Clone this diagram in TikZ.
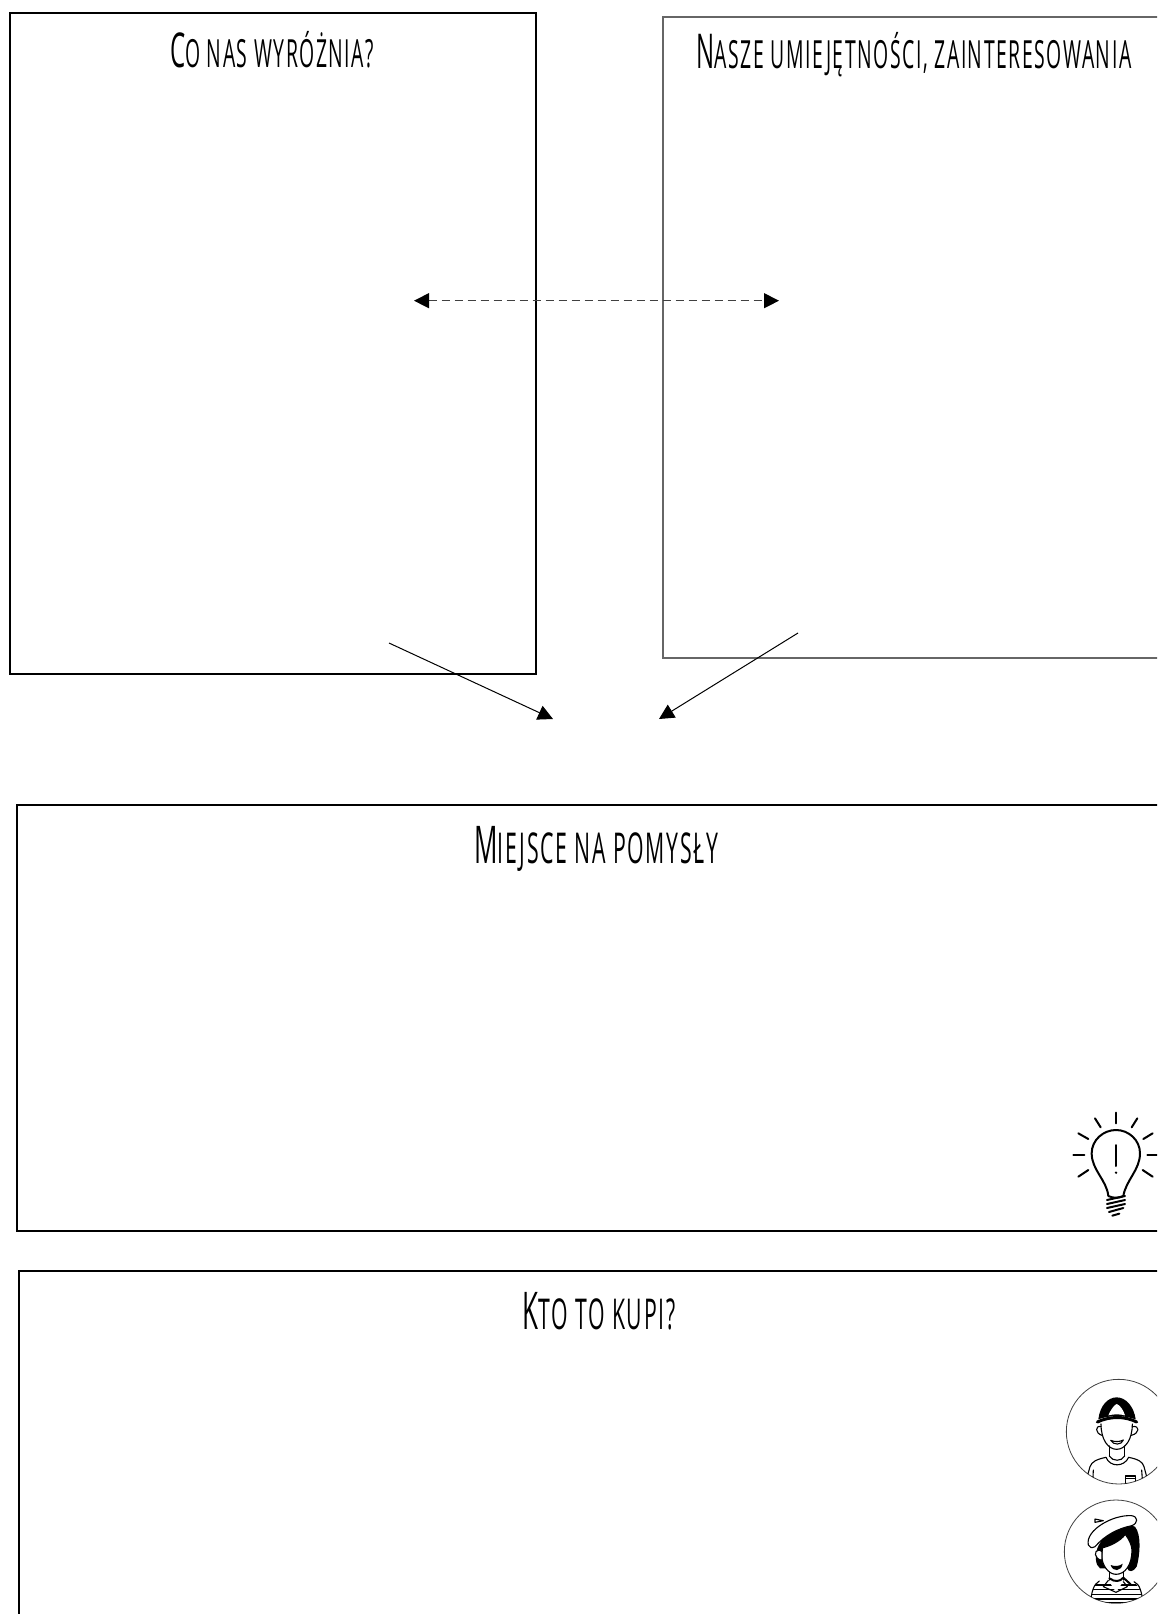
\documentclass[tikz,border=0pt]{standalone}
\usepackage{fontspec}
\newfontfamily\titlefont[FakeStretch=0.5,LetterSpace=4]{Open Sans}
\usetikzlibrary{arrows.meta}
\newcommand{\capsmall}[2]{{\fontsize{48pt}{48pt}\selectfont #1}{\fontsize{38.8pt}{38.8pt}\selectfont\MakeUppercase{#2}}}
\newcommand{\capbig}[2]{{\fontsize{52pt}{52pt}\selectfont #1}{\fontsize{42.5pt}{42.5pt}\selectfont\MakeUppercase{#2}}}
\tikzset{
    panel/.style   = {rectangle, draw=black, line width=2.1pt, anchor=north west, inner sep=0pt},
    panelgray/.style = {panel, draw=black!60},
    heading/.style = {font=\titlefont, text=black, inner sep=0pt},
    bigarrow/.style = {-{Triangle[length=15pt,width=15pt]}, line width=1pt},
    bothways/.style = {{Triangle[length=15pt,width=15pt,black]}-{Triangle[length=15pt,width=15pt,black]}, line width=1.1pt, black!75, dash pattern=on 8.5pt off 4.5pt},
    icon/.style    = {line width=#1, line cap=round, line join=round},
    icon/.default  = 2pt,
    zoomed/.style  = {x=0.3333pt, y=-0.3333pt}
}
\begin{document}
\begin{tikzpicture}[x=1pt, y=-1pt]
    \useasboundingbox (0,0) rectangle (1157,1614);
    \clip (0,0) rectangle (1157,1614);
    \fill[white] (0,0) rectangle (1157,1614);

    % --- Panels ---
    \node[panel, minimum width=526pt, minimum height=661pt] (wyroznia) at (8.5, 12) {};
    \node[panelgray, minimum width=520pt, minimum height=641pt] (umiejetnosci) at (661.5, 16) {};
    \node[panel, minimum width=1160pt, minimum height=426pt] (pomysly) at (15.5, 804) {};
    \node[panel, minimum width=1160pt, minimum height=400pt] (klienci) at (17.5, 1269.5) {};

    % --- Headings ---
    \node[heading] (t_wyroznia) at (272, 50) {\capsmall{C}{o nas wyróżnia?}};
    \node[heading] (t_umiejetnosci) at (914, 55) {\capsmall{N}{asze umiejętności, zainteresowania}};
    \node[heading] (t_pomysly) at (596, 849) {\capbig{M}{iejsce na pomysły}};
    \node[heading] (t_klienci) at (599, 1311) {\capbig{K}{to to kupi?}};

    % --- Arrows ---
    \coordinate (a_left) at (414, 300.7);
    \coordinate (a_right) at (779, 300.7);
    \coordinate (b_start) at (389, 643);
    \coordinate (b_end) at (553, 719);
    \coordinate (c_start) at (798, 633);
    \coordinate (c_end) at (659, 719);
    \draw[bothways] (a_left) -- (a_right);
    \draw[bigarrow] (b_start) -- (b_end);
    \draw[bigarrow] (c_start) -- (c_end);

    % Light bulb
    \begin{scope}[shift={(1040,1090)}, zoomed, icon]
        \draw (205,318) .. controls (200,270) and (155,240) .. (155,190) .. controls (155,150) and (190,120) .. (228,120)
              .. controls (266,120) and (300,150) .. (300,190) .. controls (300,240) and (258,270) .. (250,318)
              .. controls (235,325) and (220,325) .. (205,318);
        \foreach \ya/\yb in {330/318, 342/330, 354/342} \draw (201,\ya) -- (255,\yb);
        \draw (207,366) -- (250,354);
        \draw (217,377) -- (238,371);
        \draw (228,165) -- (228,228);
        \fill (228,248) circle (4);
        \foreach \xa/\ya/\xb/\yb in {228/68/228/100, 165/85/182/112, 292/85/275/112, 115/130/145/147, 338/130/310/147,
                                     100/195/133/195, 322/195/352/195, 115/260/145/240, 338/260/308/240}
            \draw (\xa,\ya) -- (\xb,\yb);
    \end{scope}

    % Boy in a cap
    \begin{scope}[shift={(1040,1360)}, zoomed]
        \draw[line width=0.8pt, black!75] (236,215) circle (157);
        \begin{scope}[icon=1.1pt]
            \clip (236,215) circle (157);
            \fill (175,178) .. controls (180,135) and (205,112) .. (230,112) .. controls (258,112) and (282,140) .. (287,178)
                  .. controls (250,165) and (210,165) .. (175,178) -- cycle;
            \fill[white] (205,166) .. controls (212,150) and (222,135) .. (230,132) .. controls (240,135) and (250,150) .. (255,166)
                  .. controls (240,162) and (220,162) .. (205,166) -- cycle;
            \draw[line width=3pt] (172,186) .. controls (210,168) and (255,168) .. (290,186);
            \draw (183,192) .. controls (183,240) and (205,268) .. (230,268) .. controls (255,268) and (277,240) .. (277,192);
            \draw (183,200) .. controls (165,195) and (165,220) .. (186,226);
            \draw (277,200) .. controls (300,195) and (300,220) .. (274,226);
            \filldraw[fill=white] (212,241) .. controls (225,246) and (238,246) .. (250,240) .. controls (245,256) and (220,256) .. (212,241) -- cycle;
            \draw (208,258) -- (208,288) (254,258) -- (254,288);
            \draw (198,292) .. controls (210,322) and (252,322) .. (266,292);
            \draw (208,288) .. controls (218,305) and (245,305) .. (254,288);
            \draw (198,292) .. controls (170,298) and (155,305) .. (150,320) -- (143,345);
            \draw (266,292) .. controls (295,298) and (308,305) .. (312,320) -- (320,350);
            \draw (160,330) -- (158,372) (305,330) -- (308,372);
            \draw (257,348) rectangle (287,372);
            \draw (257,356) -- (287,356);
        \end{scope}
    \end{scope}

    % Girl in a beret
    \begin{scope}[shift={(1040,1485)}, zoomed]
        \draw[line width=0.8pt, black!75] (228,200) circle (155);
        \begin{scope}[icon=1.1pt]
            \clip (228,200) circle (155);
            % hair
            \fill (172,190) .. controls (190,140) and (260,110) .. (285,125) .. controls (305,150) and (300,210) .. (290,245)
                  .. controls (280,262) and (265,262) .. (262,250) -- (180,250) .. controls (165,240) and (165,210) .. (172,190) -- cycle;
            % face
            \filldraw[fill=white] (188,188) .. controls (205,185) and (240,170) .. (256,148) .. controls (268,165) and (275,180) .. (276,195)
                  .. controls (276,240) and (255,268) .. (228,268) .. controls (205,268) and (185,240) .. (185,210) -- cycle;
            \filldraw[fill=white] (178,195) .. controls (160,195) and (162,222) .. (186,226) -- (186,200) -- cycle;
            % beret
            \draw (165,102) -- (190,107) -- (165,112) -- cycle;
            \filldraw[fill=white] (145,180) .. controls (135,135) and (220,88) .. (275,92) .. controls (295,95) and (295,115) .. (275,122)
                  .. controls (235,130) and (195,150) .. (165,185) .. controls (155,190) and (148,188) .. (145,180) -- cycle;
            % smile
            \fill (212,240) .. controls (225,245) and (238,244) .. (248,236) .. controls (245,260) and (218,262) .. (212,240) -- cycle;
            % neck and scarf
            \draw (208,262) -- (208,285) (250,262) -- (250,285);
            \draw[line width=2pt] (208,280) .. controls (225,292) and (240,290) .. (250,278) -- (272,298);
            % blouse with stripes
            \begin{scope}
                \clip (205,286) -- (178,288) .. controls (160,298) and (155,320) .. (150,360) -- (310,360) .. controls (305,320) and (298,298) .. (272,288) -- (250,290) -- (228,322) -- cycle;
                \foreach \y in {300,314,328,342,352}
                    \draw[line width=1.5pt] (140,\y) -- (320,\y);
            \end{scope}
            \draw (178,288) .. controls (160,298) and (155,320) .. (150,360);
            \draw (282,290) .. controls (300,298) and (305,320) .. (310,360);
            \draw (205,286) -- (190,305) -- (228,322) -- (262,305) -- (250,290);
        \end{scope}
    \end{scope}
\end{tikzpicture}
\end{document}
